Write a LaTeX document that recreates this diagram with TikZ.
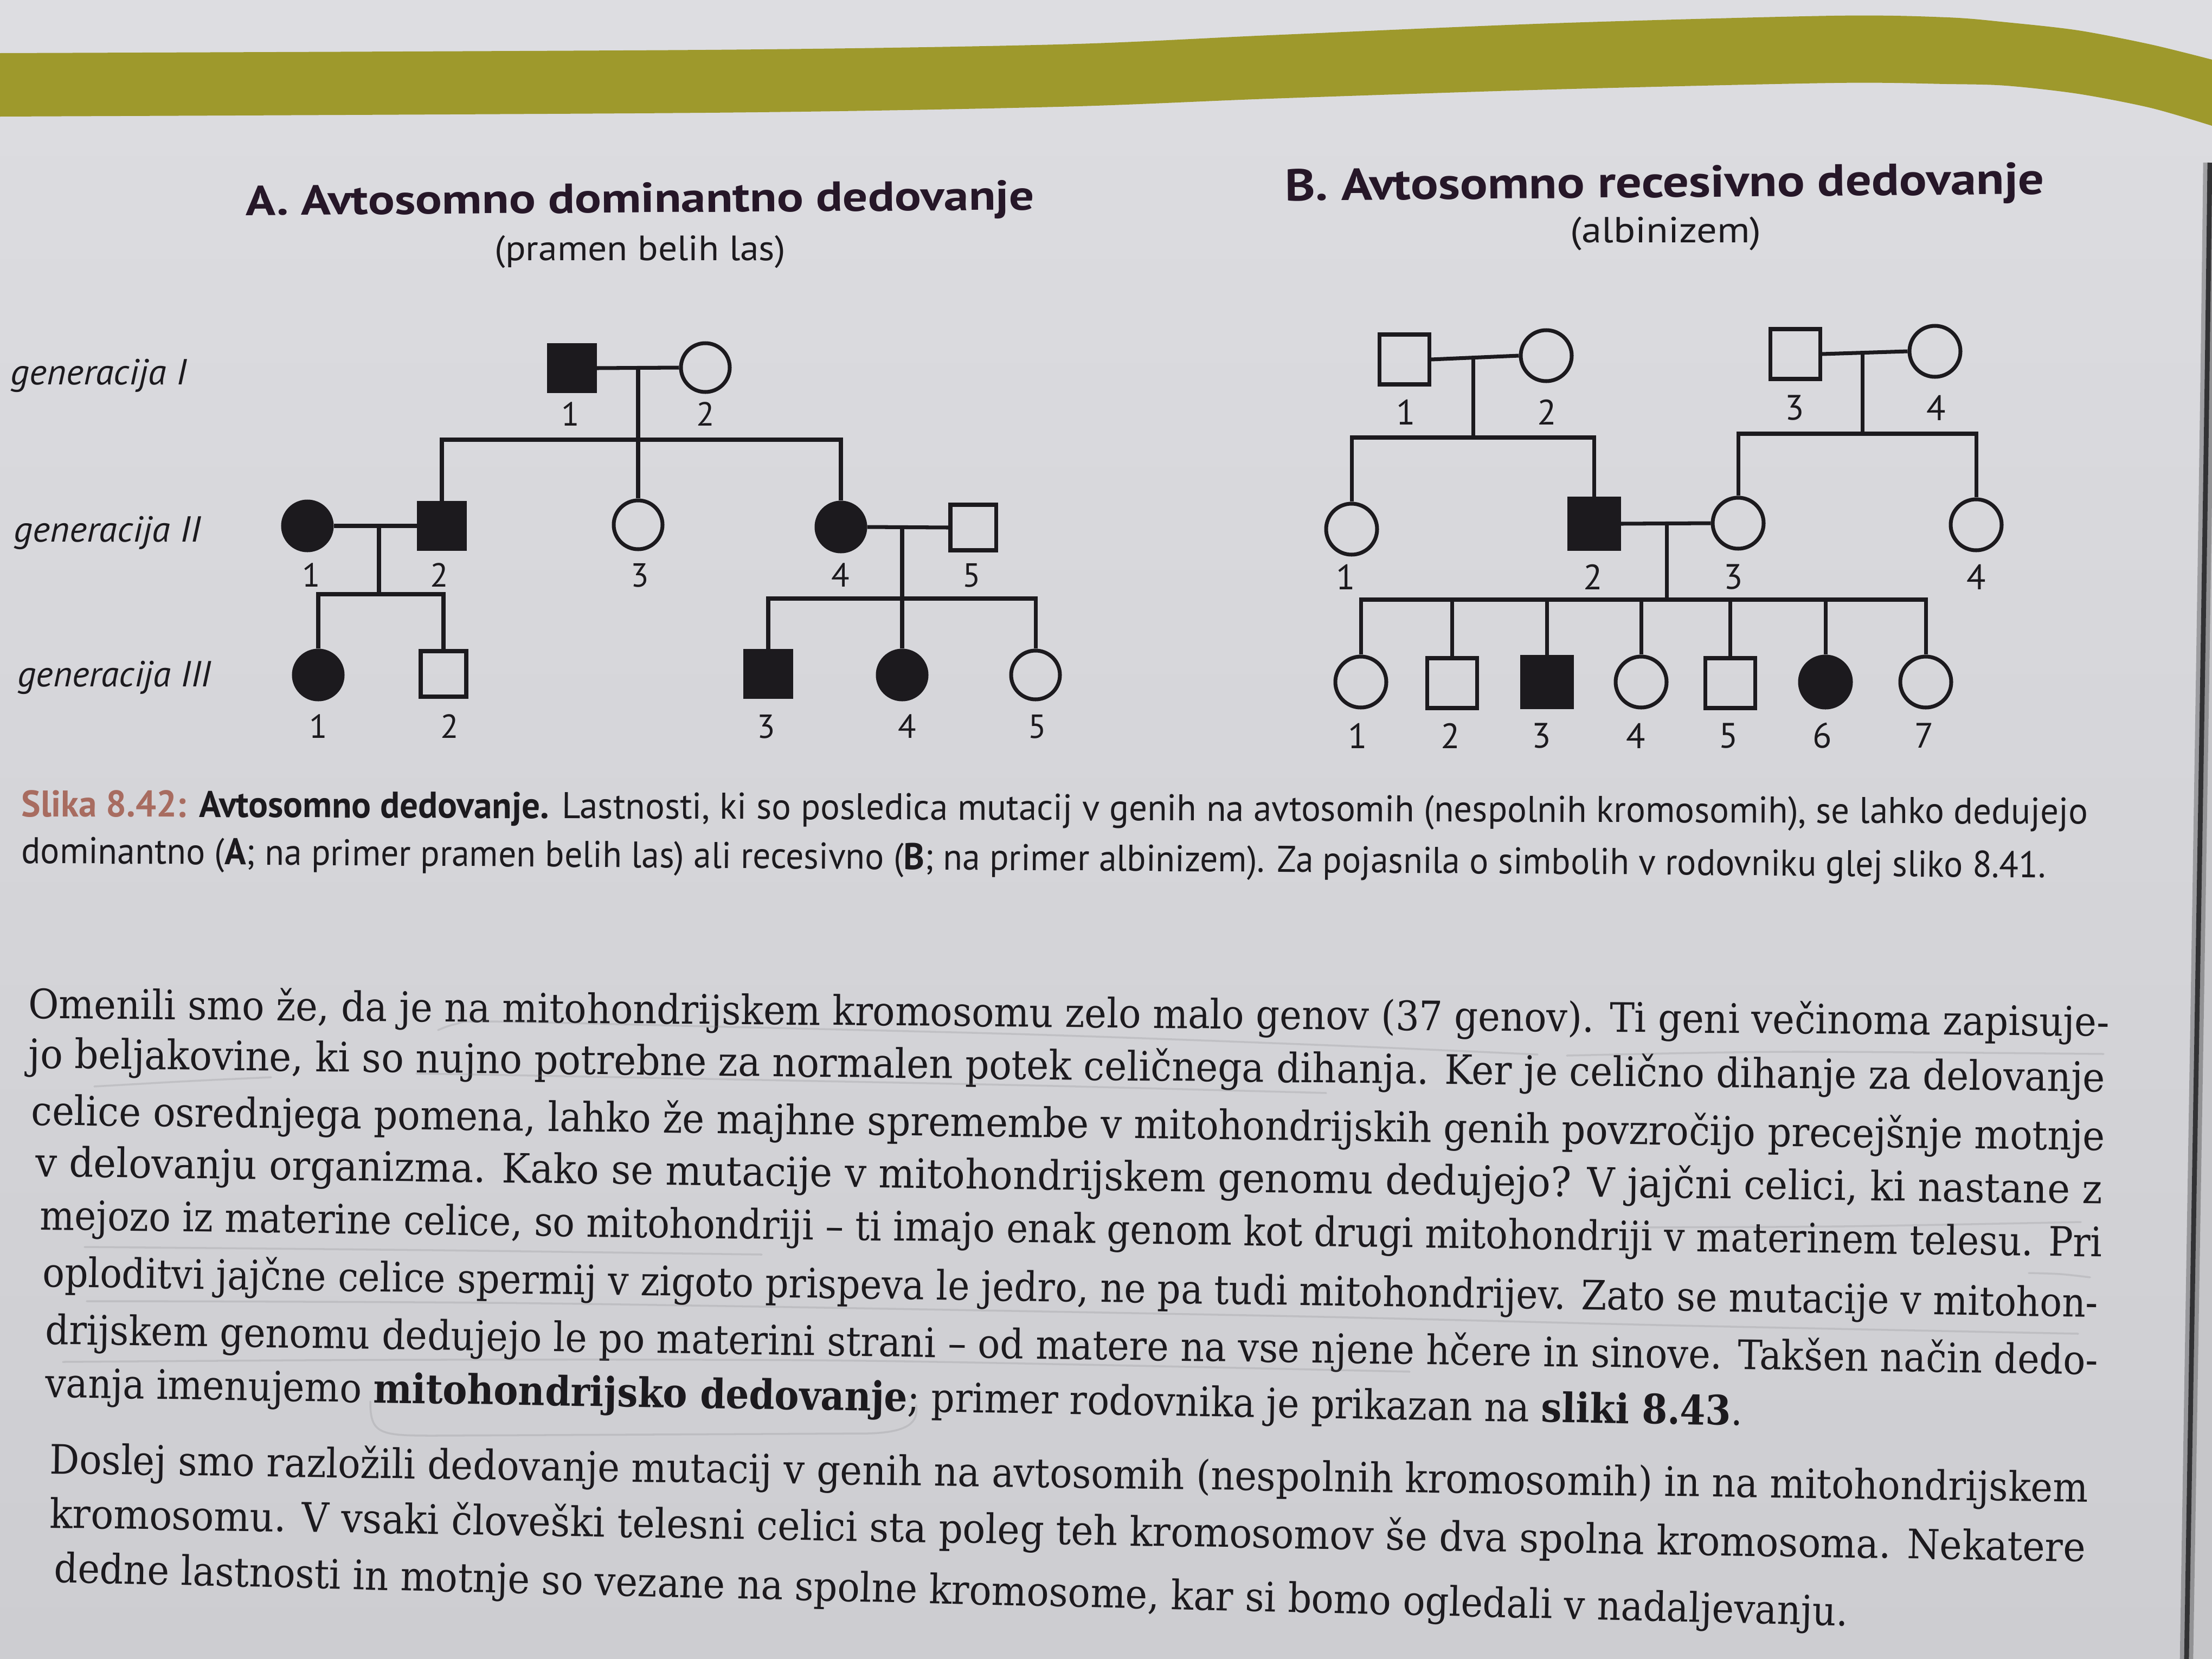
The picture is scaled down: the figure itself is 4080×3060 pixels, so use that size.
\documentclass[tikz,border=0pt]{standalone}
\usepackage{fontspec}
\usepackage{graphicx}
\setmainfont{DejaVu Serif}
\newfontfamily\headfont{PT Sans}
\usetikzlibrary{calc}

\definecolor{paperhi}{RGB}{221,221,225}
\definecolor{paperlo}{RGB}{205,205,209}
\definecolor{band}{RGB}{158,153,44}
\definecolor{ink}{RGB}{28,26,30}
\definecolor{capred}{RGB}{168,108,96}
\definecolor{edgegray}{RGB}{198,198,201}
\definecolor{edgedark}{RGB}{50,50,52}
\definecolor{pencil}{RGB}{120,120,124}

\newlength{\pxu}
\setlength{\pxu}{0.01cm}
\newcommand{\fs}[1]{\fontsize{#1}{#1}\selectfont}
\newcommand{\wfit}[2]{\resizebox{#1\pxu}{\height}{#2}}

\tikzset{
  pline/.style={line width=2pt, draw=ink},
  maleA/.style={rectangle, draw=ink, line width=2pt, minimum size=84\pxu, inner sep=0pt},
  femA/.style={circle, draw=ink, line width=2pt, minimum size=90\pxu, inner sep=0pt},
  maleB/.style={rectangle, draw=ink, line width=2pt, minimum size=92\pxu, inner sep=0pt},
  femB/.style={circle, draw=ink, line width=2pt, minimum size=94\pxu, inner sep=0pt},
  aff/.style={fill=ink},
  numA/.style={font=\headfont\fs{17.5}, text=ink, inner sep=0pt},
  numB/.style={font=\headfont\fs{18.5}, text=ink, inner sep=0pt},
  gen/.style={anchor=base west, inner sep=0pt, text=ink, font=\headfont\itshape\fs{19}},
  head/.style={anchor=base west, inner sep=0pt, text=ink!90!violet, font=\headfont\bfseries},
  sub/.style={anchor=base west, inner sep=0pt, text=ink, font=\headfont},
  captxt/.style={anchor=base west, inner sep=0pt, text=ink, font=\headfont\fs{19.5}},
  bodytxt/.style={anchor=base west, inner sep=0pt, text=ink, font=\fs{21.3}},
  pencilmark/.style={draw=pencil, line width=1pt, opacity=0.2, line cap=round},
}

\begin{document}
\begin{tikzpicture}[x=0.01cm, y=-0.01cm]
\useasboundingbox (0,0) rectangle (4080,3060);

% paper
\shade[top color=paperhi, bottom color=paperlo] (0,0) rectangle (4080,3060);

% olive header band
\fill[band] plot[smooth] coordinates {(0,98) (1301,92) (1952,82) (2342,65) (2862,43) (3383,29) (3591,32) (3700,41) (3833,56) (3967,82) (4080,110)}
  -- plot[smooth] coordinates {(4080,232) (3967,199) (3833,173) (3700,158) (3591,155) (3383,153) (2862,165) (2342,182) (1952,197) (1301,208) (0,215)} -- cycle;

% page edge on the right
\fill[edgegray] (4076,300) .. controls (4068,1000) and (4050,2000) .. (4033,3060) -- (4080,3060) -- (4080,300) -- cycle;
\draw[edgedark, line width=7pt, opacity=0.35] (4076,300) .. controls (4068,1000) and (4050,2000) .. (4033,3060);
\draw[edgedark, line width=2.5pt] (4076,300) .. controls (4068,1000) and (4050,2000) .. (4033,3060);

% ---------------- titles ----------------
\node[head, rotate=0.4] (tA) at (453,397) {\wfit{1454}{\fs{22}A. Avtosomno dominantno dedovanje}};
\node[sub] (sA) at (912,480) {\wfit{536}{\fs{18.5}(pramen belih las)}};
\node[head, rotate=0.5] (tB) at (2370,370) {\wfit{1400}{\fs{23.5}B. Avtosomno recesivno dedovanje}};
\node[sub] (sB) at (2896,447) {\wfit{352}{\fs{19}(albinizem)}};

% generation labels
\node[gen] (g1) at (19,709) {\wfit{325}{generacija I}};
\node[gen] (g2) at (25,999) {\wfit{345}{generacija II}};
\node[gen] (g3) at (32,1266) {\wfit{357}{generacija III}};

% ---------------- pedigree A ----------------
\node[maleA,aff] (aI1) at (1055,679) {};
\node[femA] (aI2) at (1301,678) {};
\draw[pline] (aI1.east) -- (aI2.west);
\coordinate (aM1) at (1177,679);
\coordinate (aS1) at (1177,811);
\draw[pline] (aM1) -- (aS1);

\node[femA,aff] (aII1) at (567,970) {};
\node[maleA,aff] (aII2) at (815,970) {};
\node[femA] (aII3) at (1177,968) {};
\node[femA,aff] (aII4) at (1551,972) {};
\node[maleA] (aII5) at (1795,973) {};
\draw[pline] (aII2.north) |- (aS1) -| (aII4.north);
\draw[pline] (aS1) -- (aII3.north);
\draw[pline] (aII1.east) -- (aII2.west);
\draw[pline] (aII4.east) -- (aII5.west);

\coordinate (aM2) at (699,970);
\coordinate (aS2) at (699,1096);
\draw[pline] (aM2) -- (aS2);
\node[femA,aff] (aIII1) at (587,1245) {};
\node[maleA] (aIII2) at (818,1243) {};
\draw[pline] (aIII1.north) |- (aS2) -| (aIII2.north);

\coordinate (aM3) at (1664,973);
\coordinate (aS3) at (1664,1104);
\draw[pline] (aM3) -- (aS3);
\node[maleA,aff] (aIII3) at (1417,1243) {};
\node[femA,aff] (aIII4) at (1664,1245) {};
\node[femA] (aIII5) at (1910,1245) {};
\draw[pline] (aIII3.north) |- (aS3) -| (aIII5.north);
\draw[pline] (aS3) -- (aIII4.north);

\node[numA] (naI1) at (1052,764) {1};
\node[numA] (naI2) at (1301,764) {2};
\node[numA] (naII1) at (574,1061) {1};
\node[numA] (naII2) at (810,1061) {2};
\node[numA] (naII3) at (1180,1061) {3};
\node[numA] (naII4) at (1550,1061) {4};
\node[numA] (naII5) at (1792,1061) {5};
\node[numA] (naIII1) at (587,1340) {1};
\node[numA] (naIII2) at (829,1340) {2};
\node[numA] (naIII3) at (1413,1340) {3};
\node[numA] (naIII4) at (1673,1340) {4};
\node[numA] (naIII5) at (1913,1340) {5};

% ---------------- pedigree B ----------------
\node[maleB] (bI1) at (2590,663) {};
\node[femB] (bI2) at (2852,656) {};
\draw[pline] (bI1.east) -- (bI2.west);
\coordinate (bM1) at (2717,660);
\coordinate (bS1) at (2717,807);
\draw[pline] (bM1) -- (bS1);

\node[maleB] (bI3) at (3311,653) {};
\node[femB] (bI4) at (3569,648) {};
\draw[pline] (bI3.east) -- (bI4.west);
\coordinate (bM2) at (3435,651);
\coordinate (bS2) at (3435,800);
\draw[pline] (bM2) -- (bS2);

\node[femB] (bII1) at (2493,976) {};
\node[maleB,aff] (bII2) at (2940,966) {};
\node[femB] (bII3) at (3206,965) {};
\node[femB] (bII4) at (3645,968) {};
\draw[pline] (bII1.north) |- (bS1) -| (bII2.north);
\draw[pline] (bII3.north) |- (bS2) -| (bII4.north);
\draw[pline] (bII2.east) -- (bII3.west);

\coordinate (bM3) at (3074,966);
\coordinate (bS3) at (3074,1106);
\draw[pline] (bM3) -- (bS3);

\node[femB] (bc1) at (2510,1258) {};
\node[maleB] (bc2) at (2678,1260) {};
\node[maleB,aff] (bc3) at (2853,1258) {};
\node[femB] (bc4) at (3027,1258) {};
\node[maleB] (bc5) at (3191,1260) {};
\node[femB,aff] (bc6) at (3367,1258) {};
\node[femB] (bc7) at (3552,1258) {};
\draw[pline] (bc1.north) |- (bS3) -| (bc7.north);
\foreach \c in {bc2,bc3,bc4,bc5,bc6}
  \draw[pline] (\c.north |- bS3) -- (\c.north);

\node[numB] (nbI1) at (2593,760) {1};
\node[numB] (nbI2) at (2853,760) {2};
\node[numB] (nbI3) at (3310,752) {3};
\node[numB] (nbI4) at (3571,752) {4};
\node[numB] (nbII1) at (2482,1064) {1};
\node[numB] (nbII2) at (2938,1064) {2};
\node[numB] (nbII3) at (3197,1064) {3};
\node[numB] (nbII4) at (3645,1064) {4};
\node[numB] (nbc1) at (2504,1357) {1};
\node[numB] (nbc2) at (2675,1357) {2};
\node[numB] (nbc3) at (2843,1357) {3};
\node[numB] (nbc4) at (3017,1357) {4};
\node[numB] (nbc5) at (3188,1357) {5};
\node[numB] (nbc6) at (3361,1357) {6};
\node[numB] (nbc7) at (3549,1357) {7};

% ---------------- caption ----------------
\node[captxt, rotate=-0.21] (cap1) at (39,1506) {\wfit{3812}{{\color{capred}\bfseries Slika 8.42:} {\bfseries Avtosomno dedovanje.} Lastnosti, ki so posledica mutacij v genih na avtosomih (nespolnih kromosomih), se lahko dedujejo}};
\node[captxt, rotate=-0.41] (cap2) at (39,1592) {\wfit{3734}{dominantno ({\bfseries A}; na primer pramen belih las) ali recesivno ({\bfseries B}; na primer albinizem). Za pojasnila o simbolih v rodovniku glej sliko 8.41.}};

% ---------------- body text ----------------
\node[bodytxt, rotate=-0.50] (p1) at (52,1878) {\wfit{3838}{Omenili smo že, da je na mitohondrijskem kromosomu zelo malo genov (37 genov). Ti geni večinoma zapisuje-}};
\node[bodytxt, rotate=-0.65] (p2) at (52,1970) {\wfit{3830}{jo beljakovine, ki so nujno potrebne za normalen potek celičnega dihanja. Ker je celično dihanje za delovanje}};
\node[bodytxt, rotate=-0.70] (p3) at (57,2075) {\wfit{3825}{celice osrednjega pomena, lahko že majhne spremembe v mitohondrijskih genih povzročijo precejšnje motnje}};
\node[bodytxt, rotate=-0.75] (p4) at (65,2170) {\wfit{3812}{v delovanju organizma. Kako se mutacije v mitohondrijskem genomu dedujejo? V jajčni celici, ki nastane z}};
\node[bodytxt, rotate=-0.75] (p5) at (73,2268) {\wfit{3804}{mejozo iz materine celice, so mitohondriji – ti imajo enak genom kot drugi mitohondriji v materinem telesu. Pri}};
\node[bodytxt, rotate=-0.85] (p6) at (78,2373) {\wfit{3791}{oploditvi jajčne celice spermij v zigoto prispeva le jedro, ne pa tudi mitohondrijev. Zato se mutacije v mitohon-}};
\node[bodytxt, rotate=-0.85] (p7) at (83,2479) {\wfit{3786}{drijskem genomu dedujejo le po materini strani – od matere na vse njene hčere in sinove. Takšen način dedo-}};
\node[bodytxt, rotate=-0.95] (p8) at (83,2577) {\wfit{3131}{vanja imenujemo \textbf{mitohondrijsko dedovanje}; primer rodovnika je prikazan na \textbf{sliki 8.43}.}};

\node[bodytxt, rotate=-0.80] (q1) at (91,2718) {\wfit{3760}{Doslej smo razložili dedovanje mutacij v genih na avtosomih (nespolnih kromosomih) in na mitohondrijskem}};
\node[bodytxt, rotate=-0.95] (q2) at (91,2818) {\wfit{3755}{kromosomu. V vsaki človeški telesni celici sta poleg teh kromosomov še dva spolna kromosoma. Nekatere}};
\node[bodytxt, rotate=-1.40] (q3) at (99,2918) {\wfit{3310}{dedne lastnosti in motnje so vezane na spolne kromosome, kar si bomo ogledali v nadaljevanju.}};

% ---------------- pencil underlines ----------------
\draw[pencilmark] plot[smooth] coordinates {(808,1900) (840,1889) (900,1884) (1300,1893) (1900,1908) (2450,1928) (2836,1945)};
\draw[pencilmark] plot[smooth] coordinates {(2890,1947) (3300,1940) (3880,1944)};
\draw[pencilmark] plot[smooth] coordinates {(174,2004) (350,1994) (500,1987)};
\draw[pencilmark] plot[smooth] coordinates {(768,1980) (1200,1988) (1900,2002) (2446,2016)};
\draw[pencilmark] plot[smooth] coordinates {(3010,2264) (3400,2262) (3838,2254)};
\draw[pencilmark] plot[smooth] coordinates {(156,2300) (800,2306) (1405,2314)};
\draw[pencilmark] plot[smooth] coordinates {(3742,2348) (3800,2350) (3855,2356)};
\draw[pencilmark] plot[smooth] coordinates {(160,2400) (1000,2404) (2300,2426) (3100,2445) (3833,2460)};
\draw[pencilmark] plot[smooth] coordinates {(116,2512) (800,2508) (1600,2510) (2600,2530)};
\draw[pencilmark] (683,2585) .. controls (683,2645) and (700,2648) .. (800,2648) -- (1600,2644) .. controls (1690,2642) and (1692,2615) .. (1690,2592);

\end{tikzpicture}
\end{document}
